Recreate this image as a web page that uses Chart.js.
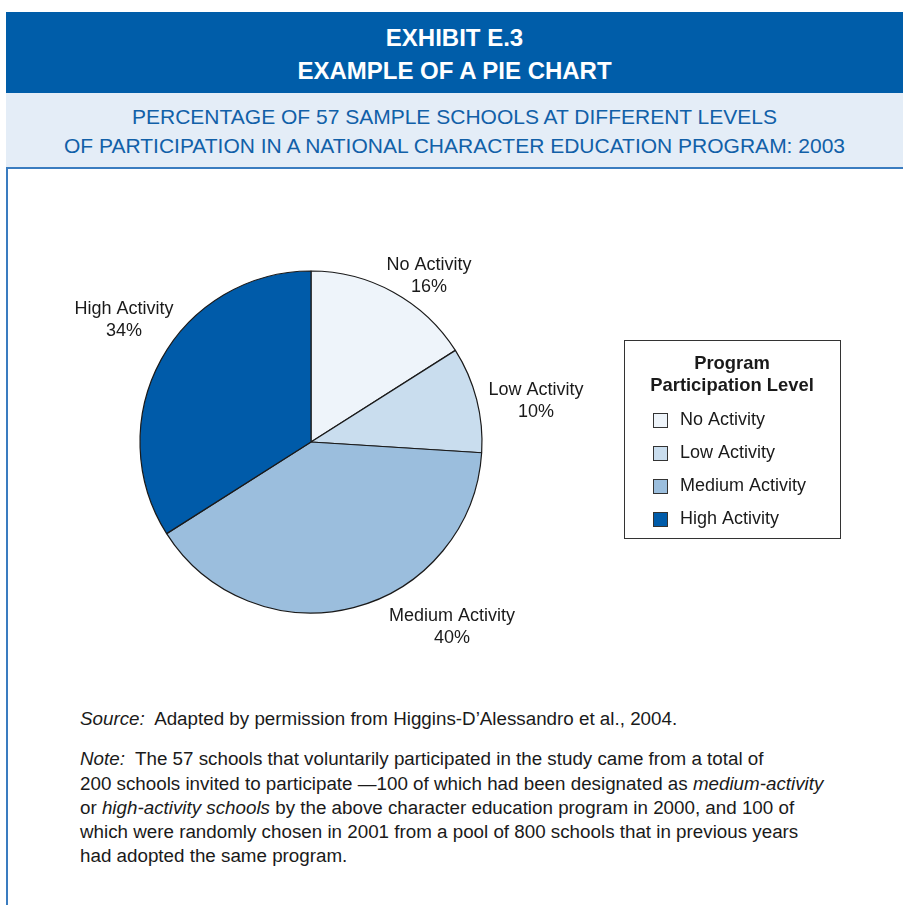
<!DOCTYPE html>
<html>
<head>
<meta charset="utf-8">
<script src="https://cdn.jsdelivr.net/npm/chart.js@4.4.0/dist/chart.umd.min.js"></script>
<style>
  html, body { margin: 0; padding: 0; background: #fff; }
  body { width: 903px; height: 905px; position: relative; overflow: hidden; font-family: "Liberation Sans", sans-serif; }
  #frame { position: absolute; left: 6px; top: 12px; width: 897px; height: 893px; border-left: 2px solid #3a7cc0; box-sizing: border-box; }
  #head { position: absolute; left: 6px; top: 12px; width: 897px; height: 81px; background: #005da9; color: #fff; text-align: center; font-weight: bold; font-size: 24px; }
  #head div { position: absolute; left: 0; right: 0; line-height: 26px; }
  #band { position: absolute; left: 6px; top: 93px; width: 897px; height: 74px; background: #e4edf7; border-bottom: 2px solid #3a7cc0; color: #1160a8; text-align: center; font-size: 21px; }
  #band div { position: absolute; left: 0; right: 0; line-height: 24px; }
  #notes { position: absolute; left: 80px; top: 707px; width: 800px; font-size: 18.8px; color: #1a1a1a; line-height: 24.3px; }
  #notes p { margin: 0 0 16px 0; white-space: nowrap; }
  canvas { position: absolute; left: 0; top: 0; }
</style>
</head>
<body>
<div id="frame"></div>
<div id="head">
  <div style="top:13px">EXHIBIT E.3</div>
  <div style="top:46px">EXAMPLE OF A PIE CHART</div>
</div>
<div id="band">
  <div style="top:12px">PERCENTAGE OF 57 SAMPLE SCHOOLS AT DIFFERENT LEVELS</div>
  <div style="top:41px">OF PARTICIPATION IN A NATIONAL CHARACTER EDUCATION PROGRAM: 2003</div>
</div>
<div id="notes">
  <p><i>Source:</i>&nbsp; Adapted by permission from Higgins-D’Alessandro et al., 2004.</p>
  <p><i>Note:</i>&nbsp; The 57 schools that voluntarily participated in the study came from a total of<br>
  200 schools invited to participate —100 of which had been designated as <i>medium-activity</i><br>
  or <i>high-activity schools</i> by the above character education program in 2000, and 100 of<br>
  which were randomly chosen in 2001 from a pool of 800 schools that in previous years<br>
  had adopted the same program.</p>
</div>
<canvas id="pie" width="903" height="905"></canvas>
<script>
// data
const levels = ['No Activity', 'Low Activity', 'Medium Activity', 'High Activity'];
const percents = [16, 10, 40, 34];
const sliceColors = ['#eef4fa', '#c9ddee', '#9bbedd', '#005ba9'];
const legendTitle = ['Program', 'Participation Level'];

// label text centre, relative to the pie centre, for each slice
const labelSpots = [[118, -177], [225, -52], [141, 174], [-187, -133]];

const FONT = '"Liberation Sans", sans-serif';

// slice labels and the boxed legend
const extrasPlugin = {
  id: 'extras',
  afterDraw(chart) {
    const ctx = chart.ctx;
    const arc = chart.getDatasetMeta(0).data[0];
    const cx = arc.x, cy = arc.y;
    ctx.save();
    ctx.fillStyle = '#1a1a1a';
    ctx.font = '18px ' + FONT;
    ctx.textAlign = 'center';
    ctx.textBaseline = 'middle';
    levels.forEach((lab, i) => {
      const [dx, dy] = labelSpots[i];
      ctx.fillText(lab, cx + dx, cy + dy);
      ctx.fillText(percents[i] + '%', cx + dx, cy + dy + 22);
    });

    // legend box
    const bx = 624, by = 340, bw = 216, bh = 198;
    ctx.strokeStyle = '#333';
    ctx.lineWidth = 1;
    ctx.strokeRect(bx + 0.5, by + 0.5, bw, bh);
    ctx.font = 'bold 18.4px ' + FONT;
    ctx.fillText(legendTitle[0], bx + bw / 2, by + 24);
    ctx.fillText(legendTitle[1], bx + bw / 2, by + 46);
    ctx.font = '18px ' + FONT;
    ctx.textAlign = 'left';
    levels.forEach((lab, i) => {
      const y = by + 80 + i * 33;
      ctx.fillStyle = sliceColors[i];
      ctx.fillRect(bx + 29, y - 7, 14, 14);
      ctx.strokeStyle = '#333';
      ctx.strokeRect(bx + 29.5, y - 6.5, 14, 14);
      ctx.fillStyle = '#1a1a1a';
      ctx.fillText(lab, bx + 56, y);
    });
    ctx.restore();
  }
};

new Chart(document.getElementById('pie'), {
  type: 'pie',
  data: {
    labels: levels,
    datasets: [{
      data: percents,
      backgroundColor: sliceColors,
      borderColor: '#1a1a1a',
      borderWidth: 1.2,
      borderAlign: 'center'
    }]
  },
  options: {
    responsive: false,
    animation: false,
    radius: 171,
    layout: { padding: { left: 140, right: 421, top: 271, bottom: 292 } },
    plugins: {
      legend: { display: false },
      tooltip: { enabled: false },
      title: { display: false }
    }
  },
  plugins: [extrasPlugin]
});
</script>
</body>
</html>
